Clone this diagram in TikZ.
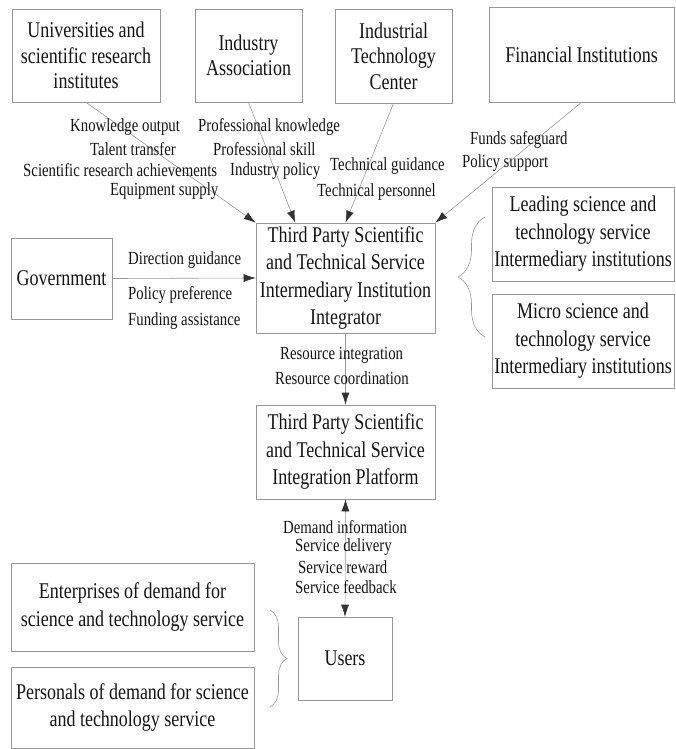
\documentclass[tikz,border=0pt]{standalone}
\usepackage{fontspec}
\setmainfont{Liberation Serif}[FakeStretch=0.8]
\usetikzlibrary{arrows.meta,calc,decorations.pathreplacing}
\definecolor{txtC}{RGB}{20,20,20}
\definecolor{lineC}{RGB}{150,150,150}
\definecolor{tipC}{RGB}{50,50,50}
\tikzset{
  box/.style={rectangle, draw=lineC, line width=0.6pt, align=center, text=txtC,
              font=\fontsize{22.5}{27.5}\selectfont, inner sep=0pt},
  topbox/.style={box, font=\fontsize{22.5}{25.5}\selectfont},
  lbl/.style={anchor=west, inner sep=0pt, text=txtC, font=\fontsize{18.5}{20}\selectfont},
  arr/.style={-{Latex[length=12pt,width=8pt,color=tipC]}, line width=0.6pt, draw=lineC},
  darr/.style={{Latex[length=12pt,width=8pt,color=tipC]}-{Latex[length=12pt,width=8pt,color=tipC]},
               line width=0.6pt, draw=lineC},
  brc/.style={decorate, decoration={brace, amplitude=#1}, line width=0.6pt, draw=lineC},
}
\begin{document}
\begin{tikzpicture}[x=1pt, y=-1pt]
  \useasboundingbox (0,0) rectangle (675,749);
  % top row
  \node[topbox, minimum width=148, minimum height=93] (univ) at (86,55.5)
    {Universities and\\scientific research\\institutes};
  \node[topbox, minimum width=107, minimum height=93] (assoc) at (248.5,55.5)
    {Industry\\Association};
  \node[topbox, minimum width=117, minimum height=94] (itc) at (393.5,56)
    {Industrial\\Technology\\Center};
  \node[topbox, minimum width=185, minimum height=95] (fin) at (581.5,54.5)
    {Financial Institutions};
  % middle
  \node[box, minimum width=101, minimum height=81] (gov) at (61.5,278.5) {Government};
  \node[box, minimum width=179, minimum height=110] (integ) at (345.5,278)
    {Third Party Scientific\\and Technical Service\\Intermediary Institution\\Integrator};
  \node[box, minimum width=182, minimum height=94] (lead) at (583,234)
    {Leading science and\\technology service\\Intermediary institutions};
  \node[box, minimum width=182, minimum height=94] (micro) at (583,341)
    {Micro science and\\technology service\\Intermediary institutions};
  \node[box, minimum width=179, minimum height=94] (plat) at (345.5,452)
    {Third Party Scientific\\and Technical Service\\Integration Platform};
  % bottom
  \node[box, minimum width=94, minimum height=83] (users) at (345,658.5) {Users};
  \node[box, minimum width=243, minimum height=88] (enter) at (132.5,607)
    {Enterprises of demand for\\science and technology service};
  \node[box, minimum width=243, minimum height=81] (pers) at (132.5,707.5)
    {Personals of demand for science\\and technology service};

  % connectors
  \draw[arr] (univ.south) -- (integ.north west);
  \draw[arr] (assoc.south) -- ($(integ.north west)!0.22!(integ.north east)$);
  \draw[arr] (itc.south) -- (integ.north);
  \draw[arr] (fin.south) -- (integ.north east);
  \draw[arr] (gov.east) -- (integ.west);
  \draw[arr] (integ.south) -- (plat.north);
  \draw[darr] (plat.south) -- (users.north);

  % braces
  \draw[brc=27pt] (485,337) -- (485,217);
  \draw[brc=17pt] (270,610) -- (270,707);

  % labels
  \foreach \x/\y/\t [count=\i] in {70/127/Knowledge output, 90/149/Talent transfer,
      23/170/Scientific research achievements, 110/191/Equipment supply,
      198/127/Professional knowledge, 213/149/Professional skill, 230/171/Industry policy,
      330/166/Technical guidance, 317/192/Technical personnel,
      470/140/Funds safeguard, 462/163/Policy support,
      128/260/Direction guidance, 128/295/Policy preference, 128/321/Funding assistance,
      280/355/Resource integration, 275/378/Resource coordination,
      283/527/Demand information, 295/547/Service delivery, 298/567/Service reward,
      295/587/Service feedback}
    \node[lbl] (l\i) at (\x,\y) {\t};
\end{tikzpicture}
\end{document}
